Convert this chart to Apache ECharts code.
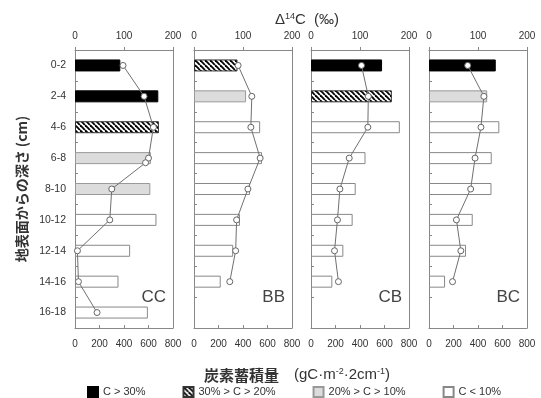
<!DOCTYPE html>
<html><head><meta charset="utf-8">
<script src="https://cdn.jsdelivr.net/npm/echarts@6/dist/echarts.min.js"></script>
<style>html,body{margin:0;padding:0;background:#fff}#c{width:541px;height:398px}</style>
</head><body><div id="c"></div>
<script>
// ---- data ----
const categories = ['0-2','2-4','4-6','6-8','8-10','10-12','12-14','14-16','16-18'];
const panelNames = ['CC','BB','CB','BC'];
// carbon storage (gC·m-2·2cm-1) per depth
const ccCarbon = [370, 680, 685, 620, 615, 665, 450, 355, 595];
const bbCarbon = [355, 425, 540, 555, 457, 375, 320, 218, null];
const cbCarbon = [580, 660, 725, 445, 365, 340, 264, 174, null];
const bcCarbon = [545, 475, 574, 512, 510, 357, 302, 131, null];
// carbon content class: 0 = C>30%, 1 = 30%>C>20%, 2 = 20%>C>10%, 3 = C<10%
const ccClass = [0, 0, 1, 2, 2, 3, 3, 3, 3];
const bbClass = [1, 2, 3, 3, 3, 3, 3, 3, 3];
const cbClass = [0, 1, 3, 3, 3, 3, 3, 3, 3];
const bcClass = [0, 2, 3, 3, 3, 3, 3, 3, 3];
// Δ14C (‰) and depth (cm) of each measured point
const ccD14C = [98, 141, 160, 150, 144, 75, 71, 5, 7, 45];
const ccDepth = [1, 3, 5, 7, 7.3, 9, 11, 13, 15, 17];
const bbD14C = [90, 118, 116, 135, 110, 87, 85, 73];
const bbDepth = [1, 3, 5, 7, 9, 11, 13, 15];
const cbD14C = [103, 117, 116, 78, 59, 54, 48, 56];
const cbDepth = [1, 3, 5, 7, 9, 11, 13, 15];
const bcD14C = [79, 112, 106, 94, 85, 56, 65, 48];
const bcDepth = [1, 3, 5, 7, 9, 11, 13, 15];
const classNames = ['C > 30%', '30% > C > 20%', '20% > C > 10%', 'C < 10%'];
const carbonTicks = [0, 800, 200];
const d14cTicks = [0, 200, 100];

const carbonSets = [ccCarbon, bbCarbon, cbCarbon, bcCarbon];
const classSets = [ccClass, bbClass, cbClass, bcClass];
const d14cSets = [ccD14C, bbD14C, cbD14C, bcD14C];
const depthSets = [ccDepth, bbDepth, cbDepth, bcDepth];

// hatch pattern
const pc = document.createElement('canvas');
pc.width = 5; pc.height = 5;
const g = pc.getContext('2d');
g.fillStyle = '#fff'; g.fillRect(0,0,5,5);
g.strokeStyle = '#000'; g.lineWidth = 1.8;
for (const o of [-5, 0, 5]) { g.beginPath(); g.moveTo(o, 0); g.lineTo(o + 5, 5); g.stroke(); }
const hatch = {image: pc, repeat: 'repeat'};

const classStyles = [
  {color: '#000', borderColor: '#000', borderWidth: 1},
  {color: hatch, borderColor: '#333', borderWidth: 1},
  {color: '#dcdcdc', borderColor: '#999', borderWidth: 1},
  {color: '#fff', borderColor: '#888', borderWidth: 1}
];

const lefts = [75, 194, 311, 429];
const axisCol = '#888';
const txt = '#333';
const font = 'Liberation Sans, Arial, sans-serif';

const grid = [], xAxis = [], yAxis = [], series = [];
lefts.forEach((l, i) => {
  grid.push({left: l, top: 50, width: 98, height: 278});
  xAxis.push({type: 'value', gridIndex: i, position: 'bottom', min: carbonTicks[0], max: carbonTicks[1], interval: carbonTicks[2],
    axisLine: {show: true, onZero: false, lineStyle: {color: axisCol}},
    axisTick: {show: true, inside: true, length: 3, lineStyle: {color: axisCol}},
    splitLine: {show: false},
    axisLabel: {color: txt, fontSize: 10, fontFamily: font, margin: 11}});
  xAxis.push({type: 'value', gridIndex: i, position: 'top', min: d14cTicks[0], max: d14cTicks[1], interval: d14cTicks[2],
    axisLine: {show: true, onZero: false, lineStyle: {color: axisCol}},
    axisTick: {show: true, inside: false, length: 3, lineStyle: {color: axisCol}},
    splitLine: {show: false},
    axisLabel: {color: txt, fontSize: 10, fontFamily: font, margin: 9}});
  yAxis.push({type: 'category', gridIndex: i, inverse: true, data: categories,
    axisLine: {show: true, lineStyle: {color: axisCol}},
    axisTick: {show: true, inside: true, length: 3, lineStyle: {color: axisCol}},
    axisLabel: {show: i === 0, color: txt, fontSize: 10.5, fontFamily: font, margin: 9},
    name: i === 0 ? '地表面からの深さ (cm)' : '', nameLocation: 'middle', nameGap: 40, nameRotate: 90,
    nameTextStyle: {color: txt, fontSize: 14, fontWeight: 'bold', fontFamily: 'Noto Sans CJK JP, sans-serif', padding: [0,0,6,0]}});
  yAxis.push({type: 'value', gridIndex: i, inverse: true, min: 0, max: 18, position: 'right',
    axisLine: {show: true, onZero: false, lineStyle: {color: axisCol}},
    axisTick: {show: false}, axisLabel: {show: false}, splitLine: {show: false}});
  classNames.forEach((nm, k) => {
    series.push({type: 'bar', name: nm, xAxisIndex: 2*i, yAxisIndex: 2*i, barWidth: 12, barGap: '-100%',
      itemStyle: classStyles[k], silent: true,
      data: carbonSets[i].map((v, j) => classSets[i][j] === k ? v : null)});
  });
  series.push({type: 'line', xAxisIndex: 2*i + 1, yAxisIndex: 2*i + 1, silent: true,
    data: d14cSets[i].map((v, j) => [v, depthSets[i][j]]),
    symbol: 'circle', symbolSize: 6, z: 5,
    lineStyle: {color: '#707070', width: 1},
    itemStyle: {color: '#fff', borderColor: '#666', borderWidth: 1}});
});

const chart = echarts.init(document.getElementById('c'), null, {renderer: 'canvas'});
chart.setOption({
  animation: false,
  backgroundColor: '#fff',
  grid, xAxis, yAxis, series,
  legend: {data: classNames, left: 87, top: 386, padding: 0, icon: 'rect', itemWidth: 10, itemHeight: 10, itemGap: 37,
    textStyle: {color: txt, fontSize: 11, fontFamily: font}, selectedMode: false},
  title: [
    {text: 'Δ{s|14}C  (‰)', left: 302, top: 7, textAlign: 'center',
      textStyle: {fontSize: 15, color: txt, fontFamily: font, fontWeight: 'normal',
        rich: {s: {fontSize: 9, verticalAlign: 'top', padding: [0,0,7,0], color: txt}}}},
    {text: '{b|炭素蓄積量}　(gC·m{s|-2}·2cm{s|-1})', left: 292, top: 362, textAlign: 'center',
      textStyle: {fontSize: 15, color: txt, fontFamily: font, fontWeight: 'normal',
        rich: {b: {fontSize: 15, fontWeight: 'bold', fontFamily: 'Noto Sans CJK JP, sans-serif', color: txt},
               s: {fontSize: 9, verticalAlign: 'top', padding: [0,0,7,0], color: txt}}}}
  ],
  graphic: panelNames.map((nm, i) => ({type: 'text', x: lefts[i] + 91, y: 297,
    style: {text: nm, fill: '#444', font: '17px ' + font, textAlign: 'right', textVerticalAlign: 'middle'}}))
});
</script></body></html>
